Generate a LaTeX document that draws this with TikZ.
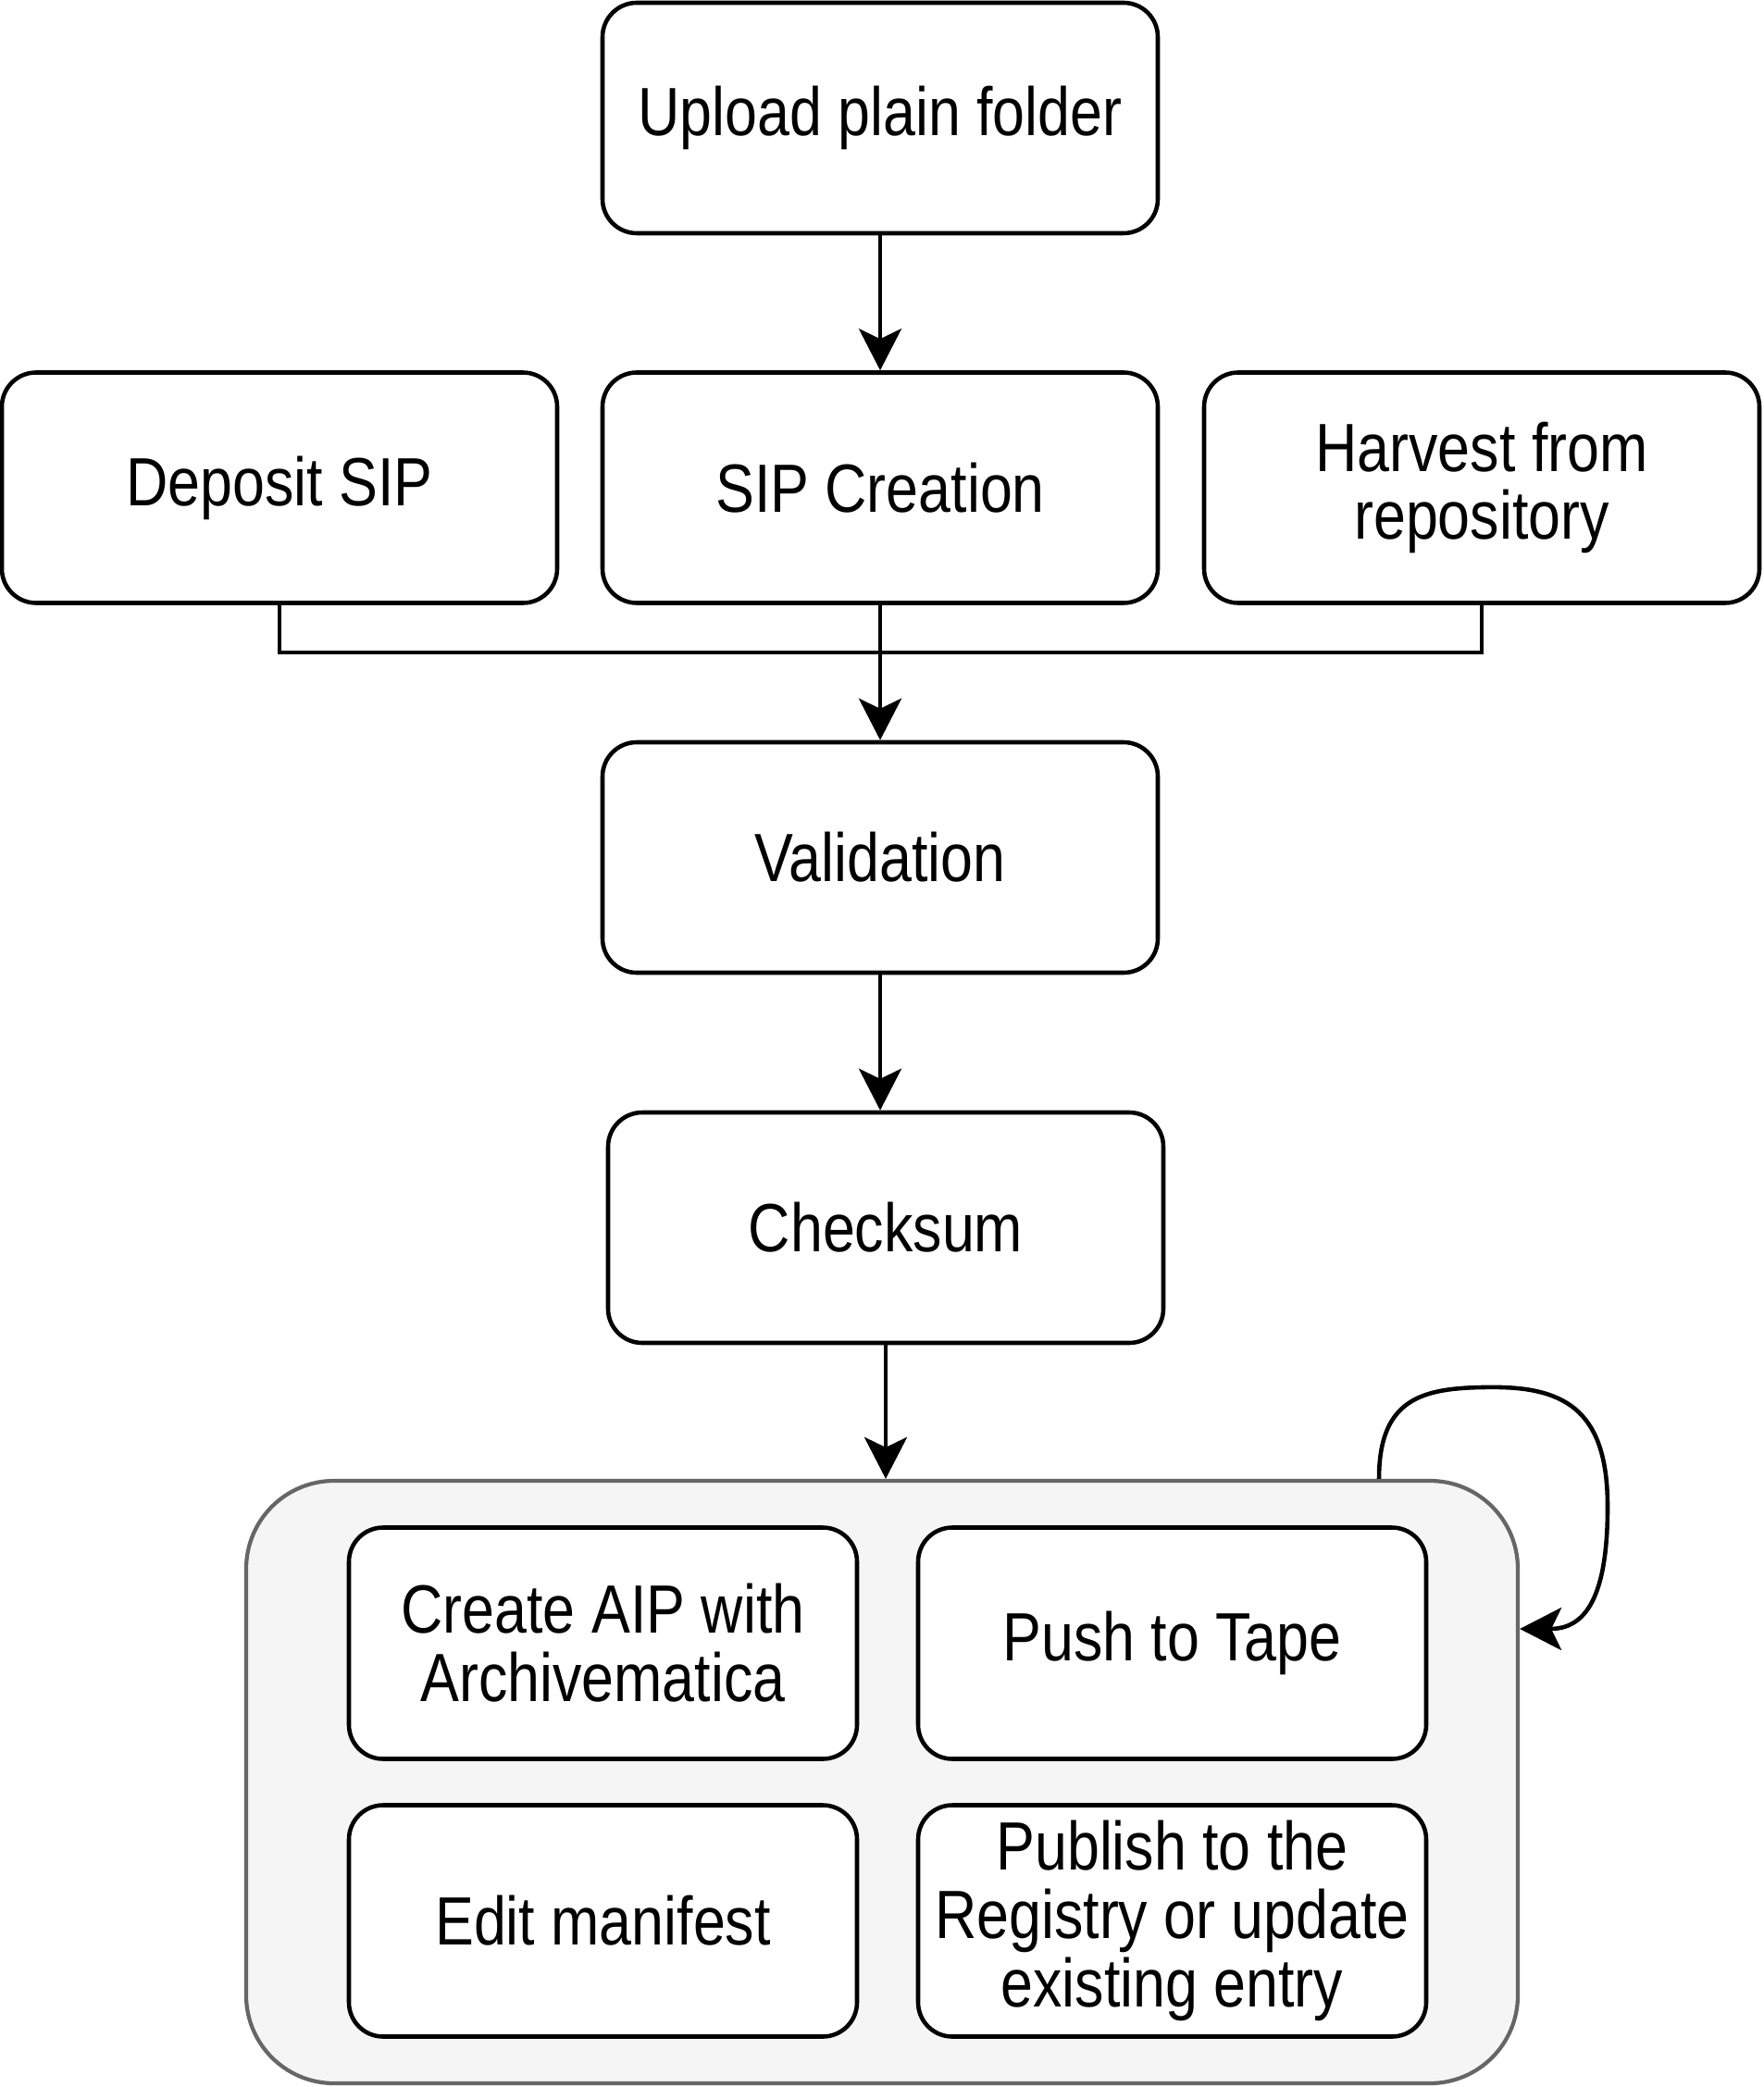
\documentclass[tikz,border=0pt]{standalone}
\usepackage{fontspec}
\setmainfont[FakeStretch=0.85]{Liberation Sans}
\usetikzlibrary{positioning, arrows.meta, calc}

\begin{document}
\begin{tikzpicture}[
    step box/.style={draw, line width=2.6pt, rectangle, rounded corners=0.74cm, fill=white,
        minimum width=12cm, minimum height=4.98cm, align=center,
        font=\fontsize{42}{42}\selectfont},
    inner step/.style={step box, minimum width=10.98cm, minimum height=5cm},
    group box/.style={draw=black!60, fill=black!4, line width=2.4pt, rectangle, rounded corners=1.9cm,
        minimum width=27.48cm, minimum height=13.02cm},
    arr/.style={line width=2.6pt, -{Stealth[length=0.9cm, width=0.92cm, inset=0.22cm]}},
    wire/.style={line width=2.6pt}
]
    \useasboundingbox (0,0) rectangle (38.1,-45.1);

    % Entry points
    \node[step box] (up) at (19.02, -2.55) {Upload plain folder};
    \node[step box] (sip) at (19.02, -10.54) {SIP Creation};
    \node[step box] (dep) at (6.04, -10.54) {Deposit SIP};
    \node[step box] (harv) at (32.02, -10.54) {Harvest from\\repository};
    \draw[arr] (up.south) -- (sip.north);

    % Checks
    \node[step box] (val) at (19.02, -18.53) {Validation};
    \node[step box] (chk) at (19.14, -26.53) {Checksum};

    % Merge of the three entry points
    \coordinate[below=1.02cm of sip.south] (jn);
    \draw[wire] (dep.south) |- (jn) -| (harv.south);
    \draw[arr] (sip.south) -- (val.north);
    \draw[arr] (val.south) -- (val.south |- chk.north);

    % Archiving group
    \node[group box] (grp) at (19.06, -38.51) {};
    \node[inner step] (aip) at (13.03, -35.51) {Create AIP with\\Archivematica};
    \node[inner step] (tape) at (25.33, -35.51) {Push to Tape};
    \node[inner step] (man) at (13.03, -41.51) {Edit manifest};
    \node[inner step] (pub) at (25.33, -41.51) {Publish to the\\Registry or update\\existing entry};
    \draw[arr] (chk.south) -- (chk.south |- grp.north);

    % Loop back into the group
    \coordinate (lpa) at ([xshift=10.74cm]grp.north);
    \coordinate (lpb) at ([yshift=3.31cm]grp.east);
    \draw[arr] (lpa) .. controls ($(lpa)+(0,1.8)$) and ($(lpa)+(1,1.98)$) .. ($(lpa)+(2.48,1.98)$)
        .. controls ($(lpa)+(4.1,1.98)$) and ($(lpa)+(4.94,1.4)$) .. ($(lpa)+(4.94,-0.6)$)
        .. controls ($(lpa)+(4.94,-2.6)$) and ($(lpb)+(1.4,0)$) .. (lpb);

\end{tikzpicture}
\end{document}
